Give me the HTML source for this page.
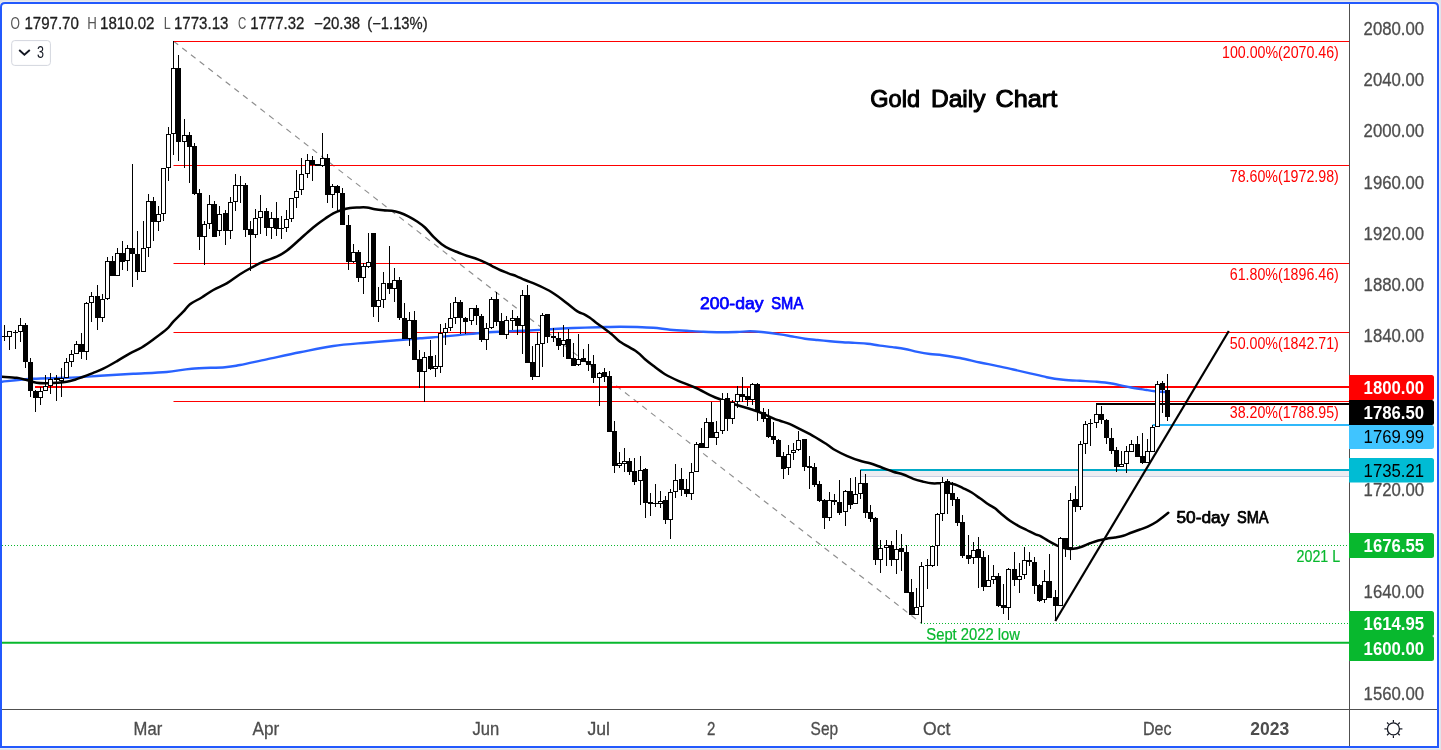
<!DOCTYPE html>
<html><head><meta charset="utf-8"><title>Gold Daily Chart</title>
<style>html,body{margin:0;padding:0;background:#e0e3eb;overflow:hidden}svg{display:block;will-change:transform;transform:translateZ(0)}text{font-family:"Liberation Sans",sans-serif}</style>
</head><body>
<svg width="1441" height="750" viewBox="0 0 1441 750">
<rect x="0" y="0" width="1441" height="750" fill="#e0e3eb"/>
<path d="M0 5 Q0 1 5 1 H1435 Q1440 1 1440 5 V749 H0 Z" fill="#ebebed"/>
<path d="M1 748 V7 Q1 3 5 3 H1434 Q1438 3 1438 7 V747 H1 Z" fill="#ffffff" stroke="#2359fd" stroke-width="2" stroke-linejoin="miter"/>
<defs><clipPath id="pane"><rect x="2" y="4" width="1347" height="705"/></clipPath></defs>
<g clip-path="url(#pane)">
<rect x="860" y="471" width="489" height="5.5" fill="#ededf2"/>
<rect x="860" y="476" width="489" height="1" fill="#c9cfe2"/>
<line x1="173.6" y1="41.2" x2="921.5" y2="623.4" stroke="#8e8e8e" stroke-width="1.15" stroke-dasharray="5.8 5.2"/>
<line x1="173.5" y1="41.5" x2="1349" y2="41.5" stroke="#ff0000" stroke-width="1"/>
<line x1="173.5" y1="165.5" x2="1349" y2="165.5" stroke="#ff0000" stroke-width="1"/>
<line x1="173.5" y1="263.5" x2="1349" y2="263.5" stroke="#ff0000" stroke-width="1"/>
<line x1="173.5" y1="332.5" x2="1349" y2="332.5" stroke="#ff0000" stroke-width="1"/>
<line x1="173.5" y1="401.5" x2="1349" y2="401.5" stroke="#ff0000" stroke-width="1"/>
<line x1="35" y1="387" x2="1349" y2="387" stroke="#ff0000" stroke-width="2.2"/>
<line x1="2" y1="545.5" x2="1349" y2="545.5" stroke="#08b82e" stroke-width="1" stroke-dasharray="1 2"/>
<line x1="921" y1="623.5" x2="1349" y2="623.5" stroke="#08b82e" stroke-width="1" stroke-dasharray="1 2"/>
<line x1="2" y1="642.8" x2="1349" y2="642.8" stroke="#08b82e" stroke-width="2"/>
<line x1="860.3" y1="470" x2="1349" y2="470" stroke="#00aac8" stroke-width="2.2"/>
<line x1="1152.5" y1="425" x2="1349" y2="425" stroke="#30b8fa" stroke-width="2"/>
<line x1="1096" y1="404" x2="1349" y2="404" stroke="#000" stroke-width="2"/>
<path d="M2.0 381.7 C7.2 381.2 22.5 379.4 33.3 378.8 C44.1 378.2 55.6 378.3 66.7 377.8 C77.8 377.3 88.9 376.5 100.0 375.8 C111.1 375.1 122.2 374.4 133.3 373.8 C144.4 373.2 157.0 372.9 166.7 372.0 C176.4 371.1 182.0 369.5 191.7 368.7 C201.4 367.9 216.9 367.8 225.0 367.2 C233.1 366.6 233.1 366.3 240.0 365.0 C246.9 363.7 256.7 361.4 266.7 359.3 C276.7 357.2 288.9 354.5 300.0 352.3 C311.1 350.1 322.2 347.6 333.3 346.0 C344.4 344.4 355.6 343.7 366.7 342.7 C377.8 341.7 391.1 340.7 400.0 340.0 C408.9 339.3 412.8 338.9 420.0 338.3 C427.2 337.7 436.3 337.2 443.3 336.6 C450.3 336.0 455.4 335.2 462.2 334.6 C469.0 334.0 477.0 333.2 484.4 332.7 C491.8 332.1 499.2 331.7 506.6 331.3 C514.0 330.9 521.4 330.9 528.8 330.5 C536.2 330.1 543.6 329.6 551.0 329.2 C558.4 328.8 565.2 328.3 573.2 328.0 C581.2 327.7 591.0 327.4 598.8 327.2 C606.6 327.0 613.7 326.7 620.0 326.7 C626.3 326.7 631.2 326.8 636.7 327.0 C642.2 327.2 647.8 327.4 653.3 327.8 C658.8 328.2 664.4 329.2 670.0 329.7 C675.6 330.2 681.2 330.5 686.7 330.8 C692.2 331.1 697.8 331.5 703.3 331.7 C708.8 331.9 714.4 332.1 720.0 332.2 C725.6 332.2 731.7 332.1 736.7 332.0 C741.7 331.9 745.8 331.3 750.0 331.3 C754.2 331.3 756.7 331.5 761.7 332.0 C766.7 332.5 774.9 333.6 780.0 334.4 C785.1 335.1 788.3 335.8 792.5 336.5 C796.7 337.2 800.8 338.1 805.0 338.7 C809.2 339.3 813.3 339.6 817.5 340.0 C821.7 340.4 825.8 340.8 830.0 341.2 C834.2 341.6 838.3 341.9 842.5 342.2 C846.7 342.5 850.8 342.6 855.0 342.9 C859.2 343.2 863.3 343.4 867.5 343.8 C871.7 344.2 875.8 345.1 880.0 345.6 C884.2 346.2 888.3 346.5 892.5 347.1 C896.7 347.7 900.8 348.2 905.0 349.0 C909.2 349.8 913.3 351.1 917.5 351.9 C921.7 352.7 925.8 353.4 930.0 354.0 C934.2 354.6 937.5 354.5 942.5 355.2 C947.5 355.9 953.8 356.8 960.0 358.0 C966.2 359.2 973.9 361.2 980.0 362.5 C986.1 363.8 991.2 364.6 996.7 365.8 C1002.2 367.0 1007.8 368.2 1013.3 369.5 C1018.8 370.8 1024.4 372.0 1030.0 373.3 C1035.6 374.6 1041.2 376.1 1046.7 377.2 C1052.2 378.3 1057.8 379.1 1063.3 379.7 C1068.8 380.3 1074.4 380.5 1080.0 380.8 C1085.6 381.1 1092.5 381.4 1096.7 381.7 C1100.9 382.0 1102.2 382.1 1105.0 382.5 C1107.8 382.9 1109.1 383.0 1113.3 383.8 C1117.5 384.6 1124.4 386.2 1130.0 387.2 C1135.6 388.2 1142.5 389.3 1146.7 390.0 C1150.9 390.7 1152.0 390.9 1155.0 391.2 C1158.0 391.5 1163.3 391.9 1165.0 392.0" fill="none" stroke="#2962ff" stroke-width="2.4" stroke-linejoin="round" stroke-linecap="round"/>
<path d="M1.7 376.7 C4.2 376.9 12.5 377.2 16.7 377.8 C20.9 378.4 23.4 379.2 26.7 380.0 C30.0 380.8 33.4 382.2 36.7 382.8 C40.0 383.4 43.4 383.3 46.7 383.3 C50.0 383.3 53.4 383.1 56.7 382.8 C60.0 382.5 63.7 382.2 66.7 381.7 C69.8 381.2 72.2 380.5 75.0 379.7 C77.8 378.9 80.2 377.8 83.3 376.7 C86.3 375.6 90.0 374.1 93.3 372.8 C96.6 371.5 99.4 370.6 103.3 368.7 C107.2 366.8 112.2 363.9 116.7 361.3 C121.2 358.7 125.8 355.6 130.0 353.3 C134.2 351.0 137.8 349.8 141.7 347.5 C145.6 345.2 149.1 342.6 153.3 339.5 C157.5 336.4 163.4 332.2 166.7 329.2 C170.0 326.2 170.5 324.6 173.3 321.7 C176.1 318.8 180.5 314.6 183.3 311.7 C186.1 308.8 186.9 306.6 190.0 304.2 C193.1 301.8 197.8 299.9 201.7 297.5 C205.6 295.1 209.1 292.4 213.3 290.0 C217.5 287.6 222.2 285.9 226.7 283.3 C231.1 280.7 235.8 276.8 240.0 274.2 C244.2 271.6 247.8 269.6 251.7 267.5 C255.6 265.4 259.1 263.5 263.3 261.7 C267.5 259.9 272.8 258.5 276.7 256.7 C280.6 254.9 282.8 253.7 286.7 250.8 C290.6 247.9 296.4 242.4 300.0 239.2 C303.6 236.0 305.5 234.1 308.3 231.7 C311.1 229.3 313.9 226.9 316.7 224.7 C319.5 222.5 322.2 220.6 325.0 218.7 C327.8 216.8 330.5 214.8 333.3 213.3 C336.1 211.9 338.9 210.9 341.7 210.0 C344.5 209.1 347.2 208.4 350.0 208.0 C352.8 207.6 355.5 207.6 358.3 207.5 C361.1 207.4 363.9 207.2 366.7 207.5 C369.5 207.8 372.2 208.7 375.0 209.2 C377.8 209.7 380.5 210.0 383.3 210.3 C386.1 210.6 388.9 210.4 391.7 210.8 C394.5 211.2 397.2 211.9 400.0 212.8 C402.8 213.7 405.5 214.9 408.3 216.3 C411.1 217.7 413.9 219.4 416.7 221.3 C419.5 223.2 422.2 224.9 425.0 227.5 C427.8 230.1 430.5 233.9 433.3 236.7 C436.1 239.5 438.9 242.1 441.7 244.2 C444.5 246.3 447.2 247.8 450.0 249.2 C452.8 250.6 455.5 251.4 458.3 252.5 C461.1 253.6 463.9 254.8 466.7 255.8 C469.5 256.8 472.2 257.3 475.0 258.3 C477.8 259.3 480.5 260.4 483.3 261.7 C486.1 262.9 488.9 264.4 491.7 265.8 C494.5 267.2 497.2 268.8 500.0 270.0 C502.8 271.2 505.5 272.2 508.3 273.3 C511.1 274.4 513.9 275.2 516.7 276.3 C519.5 277.4 521.1 278.4 525.0 280.0 C528.9 281.6 535.7 284.2 540.0 286.1 C544.3 288.1 547.3 289.5 551.0 291.7 C554.7 293.9 558.4 296.6 562.1 299.4 C565.8 302.2 570.4 306.2 573.2 308.3 C576.0 310.4 576.9 311.2 578.8 312.2 C580.6 313.2 582.4 313.5 584.3 314.4 C586.1 315.3 588.0 316.5 589.9 317.8 C591.8 319.1 593.8 320.9 595.5 322.2 C597.2 323.5 598.7 324.6 600.0 325.5 C601.3 326.4 601.3 326.4 603.3 327.8 C605.2 329.2 608.9 331.9 611.7 334.2 C614.5 336.5 615.8 338.8 620.0 341.7 C624.2 344.6 632.5 348.8 636.7 351.7 C640.9 354.6 642.2 356.8 645.0 359.2 C647.8 361.6 650.0 363.3 653.3 365.8 C656.6 368.3 660.8 371.7 665.0 374.2 C669.2 376.7 673.3 378.6 678.3 380.8 C683.3 383.0 689.4 385.0 695.0 387.5 C700.6 390.0 707.5 393.9 711.7 395.8 C715.9 397.8 715.8 397.7 720.0 399.2 C724.2 400.7 731.2 403.2 736.7 405.0 C742.2 406.8 748.9 408.5 753.3 410.0 C757.7 411.5 760.0 412.4 763.3 413.8 C766.6 415.2 770.5 417.1 773.3 418.3 C776.1 419.5 777.2 419.8 780.0 420.8 C782.8 421.8 786.7 422.8 790.0 424.2 C793.3 425.6 796.7 427.5 800.0 429.2 C803.3 430.9 805.5 431.7 810.0 434.2 C814.5 436.7 822.5 441.7 826.7 444.3 C830.9 446.9 831.7 448.1 835.0 450.0 C838.3 451.9 842.5 454.0 846.7 455.8 C850.9 457.6 856.1 459.6 860.0 460.8 C863.9 462.1 866.4 462.2 870.0 463.3 C873.6 464.4 877.8 466.1 881.7 467.5 C885.6 468.9 889.7 470.5 893.3 471.7 C896.9 472.9 900.0 473.3 903.3 474.5 C906.6 475.7 910.0 477.6 913.3 478.8 C916.6 480.0 920.2 480.9 923.3 481.7 C926.4 482.4 928.9 483.0 931.7 483.3 C934.5 483.6 937.2 483.3 940.0 483.3 C942.8 483.3 945.8 483.1 948.3 483.3 C950.8 483.5 952.5 483.7 955.0 484.5 C957.5 485.3 960.5 487.0 963.3 488.3 C966.1 489.6 968.9 490.8 971.7 492.5 C974.5 494.2 977.2 496.4 980.0 498.3 C982.8 500.2 985.8 502.5 988.3 504.2 C990.8 505.9 992.8 506.6 995.0 508.3 C997.2 510.0 999.2 512.1 1001.7 514.2 C1004.2 516.3 1007.2 518.9 1010.0 520.8 C1012.8 522.7 1015.5 524.3 1018.3 525.8 C1021.1 527.3 1023.9 528.6 1026.7 530.0 C1029.5 531.4 1032.8 533.2 1035.0 534.2 C1037.2 535.2 1037.8 534.7 1040.0 535.8 C1042.2 536.9 1045.5 539.2 1048.3 540.8 C1051.1 542.4 1053.9 544.0 1056.7 545.3 C1059.5 546.5 1062.2 547.7 1065.0 548.3 C1067.8 548.9 1070.5 549.1 1073.3 548.8 C1076.1 548.5 1078.9 547.6 1081.7 546.7 C1084.5 545.8 1087.2 544.3 1090.0 543.3 C1092.8 542.3 1095.5 541.3 1098.3 540.5 C1101.1 539.7 1103.9 539.2 1106.7 538.7 C1109.5 538.2 1112.2 538.0 1115.0 537.5 C1117.8 537.0 1120.5 536.6 1123.3 535.8 C1126.1 535.0 1128.9 533.5 1131.7 532.5 C1134.5 531.5 1137.2 530.5 1140.0 529.5 C1142.8 528.5 1145.5 527.6 1148.3 526.3 C1151.1 525.0 1154.2 523.3 1156.7 521.7 C1159.2 520.1 1161.4 518.2 1163.3 516.7 C1165.2 515.2 1167.5 513.4 1168.3 512.8" fill="none" stroke="#000" stroke-width="2.5" stroke-linejoin="round" stroke-linecap="round"/>
<line x1="1055.3" y1="621" x2="1228.8" y2="331" stroke="#000" stroke-width="2.2"/>
<line x1="4.5" y1="325.0" x2="4.5" y2="341.0" stroke="#000" stroke-width="1"/>
<rect x="2.0" y="336" width="5" height="1" fill="#000"/>
<line x1="9.5" y1="331.0" x2="9.5" y2="350.0" stroke="#000" stroke-width="1"/>
<rect x="7.5" y="331.5" width="4" height="5.0" fill="#fff" stroke="#000" stroke-width="1"/>
<line x1="15.5" y1="330.0" x2="15.5" y2="349.0" stroke="#000" stroke-width="1"/>
<rect x="13.0" y="332" width="5" height="1" fill="#000"/>
<line x1="20.5" y1="318.0" x2="20.5" y2="342.0" stroke="#000" stroke-width="1"/>
<rect x="18.5" y="325.5" width="4" height="6.0" fill="#fff" stroke="#000" stroke-width="1"/>
<line x1="25.5" y1="323.0" x2="25.5" y2="368.0" stroke="#000" stroke-width="1"/>
<rect x="23.0" y="325.0" width="5" height="37.0" fill="#000"/>
<line x1="30.5" y1="358.0" x2="30.5" y2="397.0" stroke="#000" stroke-width="1"/>
<rect x="28.0" y="362.0" width="5" height="29.0" fill="#000"/>
<line x1="35.5" y1="390.0" x2="35.5" y2="412.0" stroke="#000" stroke-width="1"/>
<rect x="33.0" y="391.0" width="5" height="7.0" fill="#000"/>
<line x1="40.5" y1="387.0" x2="40.5" y2="405.0" stroke="#000" stroke-width="1"/>
<rect x="38.5" y="391.5" width="4" height="6.0" fill="#fff" stroke="#000" stroke-width="1"/>
<line x1="45.5" y1="375.0" x2="45.5" y2="391.0" stroke="#000" stroke-width="1"/>
<rect x="43.5" y="386.5" width="4" height="4.0" fill="#fff" stroke="#000" stroke-width="1"/>
<line x1="50.5" y1="373.0" x2="50.5" y2="394.0" stroke="#000" stroke-width="1"/>
<rect x="48.5" y="379.5" width="4" height="6.0" fill="#fff" stroke="#000" stroke-width="1"/>
<line x1="56.5" y1="375.0" x2="56.5" y2="401.0" stroke="#000" stroke-width="1"/>
<rect x="54.0" y="378.0" width="5" height="2.0" fill="#000"/>
<line x1="61.5" y1="368.0" x2="61.5" y2="397.0" stroke="#000" stroke-width="1"/>
<rect x="59.5" y="378.5" width="4" height="2.0" fill="#fff" stroke="#000" stroke-width="1"/>
<line x1="66.5" y1="358.0" x2="66.5" y2="378.0" stroke="#000" stroke-width="1"/>
<rect x="64.5" y="362.5" width="4" height="15.0" fill="#fff" stroke="#000" stroke-width="1"/>
<line x1="71.5" y1="350.0" x2="71.5" y2="367.0" stroke="#000" stroke-width="1"/>
<rect x="69.5" y="354.5" width="4" height="7.0" fill="#fff" stroke="#000" stroke-width="1"/>
<line x1="76.5" y1="341.0" x2="76.5" y2="354.0" stroke="#000" stroke-width="1"/>
<rect x="74.5" y="344.5" width="4" height="9.0" fill="#fff" stroke="#000" stroke-width="1"/>
<line x1="81.5" y1="333.0" x2="81.5" y2="359.0" stroke="#000" stroke-width="1"/>
<rect x="79.0" y="344.0" width="5" height="8.0" fill="#000"/>
<line x1="86.5" y1="302.0" x2="86.5" y2="360.0" stroke="#000" stroke-width="1"/>
<rect x="84.5" y="303.5" width="4" height="48.0" fill="#fff" stroke="#000" stroke-width="1"/>
<line x1="91.5" y1="292.0" x2="91.5" y2="322.0" stroke="#000" stroke-width="1"/>
<rect x="89.5" y="296.5" width="4" height="6.0" fill="#fff" stroke="#000" stroke-width="1"/>
<line x1="97.5" y1="285.0" x2="97.5" y2="330.0" stroke="#000" stroke-width="1"/>
<rect x="95.0" y="296.0" width="5" height="22.0" fill="#000"/>
<line x1="102.5" y1="294.0" x2="102.5" y2="322.0" stroke="#000" stroke-width="1"/>
<rect x="100.5" y="299.5" width="4" height="18.0" fill="#fff" stroke="#000" stroke-width="1"/>
<line x1="107.5" y1="257.0" x2="107.5" y2="300.0" stroke="#000" stroke-width="1"/>
<rect x="105.5" y="261.5" width="4" height="37.0" fill="#fff" stroke="#000" stroke-width="1"/>
<line x1="112.5" y1="256.0" x2="112.5" y2="276.0" stroke="#000" stroke-width="1"/>
<rect x="110.0" y="261.0" width="5" height="15.0" fill="#000"/>
<line x1="117.5" y1="248.0" x2="117.5" y2="276.0" stroke="#000" stroke-width="1"/>
<rect x="115.5" y="253.5" width="4" height="22.0" fill="#fff" stroke="#000" stroke-width="1"/>
<line x1="122.5" y1="241.0" x2="122.5" y2="270.0" stroke="#000" stroke-width="1"/>
<rect x="120.0" y="253.0" width="5" height="9.0" fill="#000"/>
<line x1="127.5" y1="245.0" x2="127.5" y2="271.0" stroke="#000" stroke-width="1"/>
<rect x="125.5" y="248.5" width="4" height="12.0" fill="#fff" stroke="#000" stroke-width="1"/>
<line x1="132.5" y1="164.0" x2="132.5" y2="287.0" stroke="#000" stroke-width="1"/>
<rect x="130.0" y="248.0" width="5" height="6.0" fill="#000"/>
<line x1="137.5" y1="231.0" x2="137.5" y2="280.0" stroke="#000" stroke-width="1"/>
<rect x="135.0" y="254.0" width="5" height="18.0" fill="#000"/>
<line x1="143.5" y1="221.0" x2="143.5" y2="272.0" stroke="#000" stroke-width="1"/>
<rect x="141.5" y="248.5" width="4" height="23.0" fill="#fff" stroke="#000" stroke-width="1"/>
<line x1="148.5" y1="194.0" x2="148.5" y2="257.0" stroke="#000" stroke-width="1"/>
<rect x="146.5" y="201.5" width="4" height="46.0" fill="#fff" stroke="#000" stroke-width="1"/>
<line x1="153.5" y1="197.0" x2="153.5" y2="241.0" stroke="#000" stroke-width="1"/>
<rect x="151.0" y="201.0" width="5" height="21.0" fill="#000"/>
<line x1="158.5" y1="206.0" x2="158.5" y2="231.0" stroke="#000" stroke-width="1"/>
<rect x="156.5" y="214.5" width="4" height="7.0" fill="#fff" stroke="#000" stroke-width="1"/>
<line x1="163.5" y1="168.0" x2="163.5" y2="221.0" stroke="#000" stroke-width="1"/>
<rect x="161.5" y="168.5" width="4" height="45.0" fill="#fff" stroke="#000" stroke-width="1"/>
<line x1="168.5" y1="127.0" x2="168.5" y2="181.0" stroke="#000" stroke-width="1"/>
<rect x="166.5" y="134.5" width="4" height="33.0" fill="#fff" stroke="#000" stroke-width="1"/>
<line x1="173.5" y1="41.0" x2="173.5" y2="155.0" stroke="#000" stroke-width="1"/>
<rect x="171.5" y="68.5" width="4" height="65.0" fill="#fff" stroke="#000" stroke-width="1"/>
<line x1="178.5" y1="55.0" x2="178.5" y2="161.0" stroke="#000" stroke-width="1"/>
<rect x="176.0" y="68.0" width="5" height="74.0" fill="#000"/>
<line x1="184.5" y1="119.0" x2="184.5" y2="168.0" stroke="#000" stroke-width="1"/>
<rect x="182.5" y="135.5" width="4" height="6.0" fill="#fff" stroke="#000" stroke-width="1"/>
<line x1="189.5" y1="132.0" x2="189.5" y2="183.0" stroke="#000" stroke-width="1"/>
<rect x="187.0" y="135.0" width="5" height="12.0" fill="#000"/>
<line x1="194.5" y1="143.0" x2="194.5" y2="195.0" stroke="#000" stroke-width="1"/>
<rect x="192.0" y="146.0" width="5" height="48.0" fill="#000"/>
<line x1="199.5" y1="189.0" x2="199.5" y2="250.0" stroke="#000" stroke-width="1"/>
<rect x="197.0" y="193.0" width="5" height="44.0" fill="#000"/>
<line x1="204.5" y1="221.0" x2="204.5" y2="265.0" stroke="#000" stroke-width="1"/>
<rect x="202.5" y="224.5" width="4" height="12.0" fill="#fff" stroke="#000" stroke-width="1"/>
<line x1="209.5" y1="195.0" x2="209.5" y2="229.0" stroke="#000" stroke-width="1"/>
<rect x="207.5" y="204.5" width="4" height="19.0" fill="#fff" stroke="#000" stroke-width="1"/>
<line x1="214.5" y1="201.0" x2="214.5" y2="237.0" stroke="#000" stroke-width="1"/>
<rect x="212.0" y="204.0" width="5" height="33.0" fill="#000"/>
<line x1="219.5" y1="206.0" x2="219.5" y2="236.0" stroke="#000" stroke-width="1"/>
<rect x="217.5" y="214.5" width="4" height="16.0" fill="#fff" stroke="#000" stroke-width="1"/>
<line x1="225.5" y1="210.0" x2="225.5" y2="245.0" stroke="#000" stroke-width="1"/>
<rect x="223.0" y="213.0" width="5" height="18.0" fill="#000"/>
<line x1="230.5" y1="197.0" x2="230.5" y2="239.0" stroke="#000" stroke-width="1"/>
<rect x="228.5" y="202.5" width="4" height="28.0" fill="#fff" stroke="#000" stroke-width="1"/>
<line x1="235.5" y1="174.0" x2="235.5" y2="211.0" stroke="#000" stroke-width="1"/>
<rect x="233.5" y="185.5" width="4" height="16.0" fill="#fff" stroke="#000" stroke-width="1"/>
<line x1="240.5" y1="176.0" x2="240.5" y2="203.0" stroke="#000" stroke-width="1"/>
<rect x="238.0" y="185" width="5" height="1" fill="#000"/>
<line x1="245.5" y1="183.0" x2="245.5" y2="237.0" stroke="#000" stroke-width="1"/>
<rect x="243.0" y="185.0" width="5" height="45.0" fill="#000"/>
<line x1="250.5" y1="221.0" x2="250.5" y2="271.0" stroke="#000" stroke-width="1"/>
<rect x="248.0" y="229.0" width="5" height="6.0" fill="#000"/>
<line x1="255.5" y1="209.0" x2="255.5" y2="238.0" stroke="#000" stroke-width="1"/>
<rect x="253.5" y="218.5" width="4" height="16.0" fill="#fff" stroke="#000" stroke-width="1"/>
<line x1="260.5" y1="195.0" x2="260.5" y2="234.0" stroke="#000" stroke-width="1"/>
<rect x="258.5" y="211.5" width="4" height="6.0" fill="#fff" stroke="#000" stroke-width="1"/>
<line x1="266.5" y1="208.0" x2="266.5" y2="236.0" stroke="#000" stroke-width="1"/>
<rect x="264.0" y="211.0" width="5" height="17.0" fill="#000"/>
<line x1="271.5" y1="212.0" x2="271.5" y2="239.0" stroke="#000" stroke-width="1"/>
<rect x="269.5" y="218.5" width="4" height="9.0" fill="#fff" stroke="#000" stroke-width="1"/>
<line x1="276.5" y1="202.0" x2="276.5" y2="236.0" stroke="#000" stroke-width="1"/>
<rect x="274.0" y="218.0" width="5" height="11.0" fill="#000"/>
<line x1="281.5" y1="216.0" x2="281.5" y2="239.0" stroke="#000" stroke-width="1"/>
<rect x="279.0" y="228.0" width="5" height="1.0" fill="#000"/>
<line x1="286.5" y1="210.0" x2="286.5" y2="232.0" stroke="#000" stroke-width="1"/>
<rect x="284.5" y="219.5" width="4" height="8.0" fill="#fff" stroke="#000" stroke-width="1"/>
<line x1="291.5" y1="198.0" x2="291.5" y2="222.0" stroke="#000" stroke-width="1"/>
<rect x="289.5" y="198.5" width="4" height="20.0" fill="#fff" stroke="#000" stroke-width="1"/>
<line x1="296.5" y1="170.0" x2="296.5" y2="208.0" stroke="#000" stroke-width="1"/>
<rect x="294.5" y="191.5" width="4" height="6.0" fill="#fff" stroke="#000" stroke-width="1"/>
<line x1="301.5" y1="158.0" x2="301.5" y2="195.0" stroke="#000" stroke-width="1"/>
<rect x="299.5" y="174.5" width="4" height="15.0" fill="#fff" stroke="#000" stroke-width="1"/>
<line x1="307.5" y1="154.0" x2="307.5" y2="178.0" stroke="#000" stroke-width="1"/>
<rect x="305.5" y="160.5" width="4" height="13.0" fill="#fff" stroke="#000" stroke-width="1"/>
<line x1="312.5" y1="156.0" x2="312.5" y2="181.0" stroke="#000" stroke-width="1"/>
<rect x="310.0" y="160.0" width="5" height="5.0" fill="#000"/>
<line x1="317.5" y1="164.0" x2="317.5" y2="166.0" stroke="#000" stroke-width="1"/>
<rect x="315.0" y="164.0" width="5" height="2.0" fill="#000"/>
<line x1="322.5" y1="133.0" x2="322.5" y2="167.0" stroke="#000" stroke-width="1"/>
<rect x="320.5" y="158.5" width="4" height="7.0" fill="#fff" stroke="#000" stroke-width="1"/>
<line x1="327.5" y1="154.0" x2="327.5" y2="203.0" stroke="#000" stroke-width="1"/>
<rect x="325.0" y="158.0" width="5" height="37.0" fill="#000"/>
<line x1="332.5" y1="184.0" x2="332.5" y2="208.0" stroke="#000" stroke-width="1"/>
<rect x="330.5" y="186.5" width="4" height="8.0" fill="#fff" stroke="#000" stroke-width="1"/>
<line x1="337.5" y1="185.0" x2="337.5" y2="211.0" stroke="#000" stroke-width="1"/>
<rect x="335.0" y="186.0" width="5" height="7.0" fill="#000"/>
<line x1="342.5" y1="188.0" x2="342.5" y2="225.0" stroke="#000" stroke-width="1"/>
<rect x="340.0" y="193.0" width="5" height="32.0" fill="#000"/>
<line x1="348.5" y1="215.0" x2="348.5" y2="270.0" stroke="#000" stroke-width="1"/>
<rect x="346.0" y="225.0" width="5" height="37.0" fill="#000"/>
<line x1="353.5" y1="244.0" x2="353.5" y2="263.0" stroke="#000" stroke-width="1"/>
<rect x="351.5" y="252.5" width="4" height="9.0" fill="#fff" stroke="#000" stroke-width="1"/>
<line x1="358.5" y1="250.0" x2="358.5" y2="282.0" stroke="#000" stroke-width="1"/>
<rect x="356.0" y="252.0" width="5" height="26.0" fill="#000"/>
<line x1="363.5" y1="263.0" x2="363.5" y2="294.0" stroke="#000" stroke-width="1"/>
<rect x="361.5" y="266.5" width="4" height="11.0" fill="#fff" stroke="#000" stroke-width="1"/>
<line x1="368.5" y1="233.0" x2="368.5" y2="268.0" stroke="#000" stroke-width="1"/>
<rect x="366.5" y="262.5" width="4" height="4.0" fill="#fff" stroke="#000" stroke-width="1"/>
<line x1="373.5" y1="233.0" x2="373.5" y2="317.0" stroke="#000" stroke-width="1"/>
<rect x="371.0" y="233.0" width="5" height="74.0" fill="#000"/>
<line x1="378.5" y1="287.0" x2="378.5" y2="322.0" stroke="#000" stroke-width="1"/>
<rect x="376.5" y="300.5" width="4" height="6.0" fill="#fff" stroke="#000" stroke-width="1"/>
<line x1="383.5" y1="272.0" x2="383.5" y2="308.0" stroke="#000" stroke-width="1"/>
<rect x="381.5" y="283.5" width="4" height="16.0" fill="#fff" stroke="#000" stroke-width="1"/>
<line x1="389.5" y1="246.0" x2="389.5" y2="294.0" stroke="#000" stroke-width="1"/>
<rect x="387.0" y="283.0" width="5" height="6.0" fill="#000"/>
<line x1="394.5" y1="268.0" x2="394.5" y2="302.0" stroke="#000" stroke-width="1"/>
<rect x="392.5" y="280.5" width="4" height="8.0" fill="#fff" stroke="#000" stroke-width="1"/>
<line x1="399.5" y1="277.0" x2="399.5" y2="320.0" stroke="#000" stroke-width="1"/>
<rect x="397.0" y="280.0" width="5" height="38.0" fill="#000"/>
<line x1="404.5" y1="303.0" x2="404.5" y2="339.0" stroke="#000" stroke-width="1"/>
<rect x="402.0" y="318.0" width="5" height="21.0" fill="#000"/>
<line x1="409.5" y1="312.0" x2="409.5" y2="346.0" stroke="#000" stroke-width="1"/>
<rect x="407.5" y="320.5" width="4" height="18.0" fill="#fff" stroke="#000" stroke-width="1"/>
<line x1="414.5" y1="311.0" x2="414.5" y2="360.0" stroke="#000" stroke-width="1"/>
<rect x="412.0" y="320.0" width="5" height="40.0" fill="#000"/>
<line x1="419.5" y1="350.0" x2="419.5" y2="388.0" stroke="#000" stroke-width="1"/>
<rect x="417.0" y="359.0" width="5" height="13.0" fill="#000"/>
<line x1="424.5" y1="352.0" x2="424.5" y2="402.0" stroke="#000" stroke-width="1"/>
<rect x="422.5" y="357.5" width="4" height="14.0" fill="#fff" stroke="#000" stroke-width="1"/>
<line x1="430.5" y1="340.0" x2="430.5" y2="370.0" stroke="#000" stroke-width="1"/>
<rect x="428.0" y="356.0" width="5" height="13.0" fill="#000"/>
<line x1="435.5" y1="355.0" x2="435.5" y2="377.0" stroke="#000" stroke-width="1"/>
<rect x="433.5" y="366.5" width="4" height="2.0" fill="#fff" stroke="#000" stroke-width="1"/>
<line x1="440.5" y1="324.0" x2="440.5" y2="373.0" stroke="#000" stroke-width="1"/>
<rect x="438.5" y="333.5" width="4" height="33.0" fill="#fff" stroke="#000" stroke-width="1"/>
<line x1="445.5" y1="323.0" x2="445.5" y2="345.0" stroke="#000" stroke-width="1"/>
<rect x="443.5" y="328.5" width="4" height="4.0" fill="#fff" stroke="#000" stroke-width="1"/>
<line x1="450.5" y1="303.0" x2="450.5" y2="331.0" stroke="#000" stroke-width="1"/>
<rect x="448.5" y="318.5" width="4" height="9.0" fill="#fff" stroke="#000" stroke-width="1"/>
<line x1="455.5" y1="297.0" x2="455.5" y2="324.0" stroke="#000" stroke-width="1"/>
<rect x="453.5" y="302.5" width="4" height="15.0" fill="#fff" stroke="#000" stroke-width="1"/>
<line x1="460.5" y1="300.0" x2="460.5" y2="334.0" stroke="#000" stroke-width="1"/>
<rect x="458.0" y="302.0" width="5" height="16.0" fill="#000"/>
<line x1="465.5" y1="317.0" x2="465.5" y2="334.0" stroke="#000" stroke-width="1"/>
<rect x="463.0" y="318.0" width="5" height="4.0" fill="#000"/>
<line x1="471.5" y1="308.0" x2="471.5" y2="325.0" stroke="#000" stroke-width="1"/>
<rect x="469.5" y="308.5" width="4" height="12.0" fill="#fff" stroke="#000" stroke-width="1"/>
<line x1="476.5" y1="305.0" x2="476.5" y2="325.0" stroke="#000" stroke-width="1"/>
<rect x="474.0" y="308.0" width="5" height="8.0" fill="#000"/>
<line x1="481.5" y1="314.0" x2="481.5" y2="342.0" stroke="#000" stroke-width="1"/>
<rect x="479.0" y="316.0" width="5" height="24.0" fill="#000"/>
<line x1="486.5" y1="323.0" x2="486.5" y2="350.0" stroke="#000" stroke-width="1"/>
<rect x="484.5" y="328.5" width="4" height="11.0" fill="#fff" stroke="#000" stroke-width="1"/>
<line x1="491.5" y1="297.0" x2="491.5" y2="329.0" stroke="#000" stroke-width="1"/>
<rect x="489.5" y="299.5" width="4" height="28.0" fill="#fff" stroke="#000" stroke-width="1"/>
<line x1="496.5" y1="292.0" x2="496.5" y2="326.0" stroke="#000" stroke-width="1"/>
<rect x="494.0" y="299.0" width="5" height="23.0" fill="#000"/>
<line x1="501.5" y1="313.0" x2="501.5" y2="335.0" stroke="#000" stroke-width="1"/>
<rect x="499.0" y="321.0" width="5" height="14.0" fill="#000"/>
<line x1="506.5" y1="316.0" x2="506.5" y2="339.0" stroke="#000" stroke-width="1"/>
<rect x="504.5" y="320.5" width="4" height="14.0" fill="#fff" stroke="#000" stroke-width="1"/>
<line x1="512.5" y1="310.0" x2="512.5" y2="330.0" stroke="#000" stroke-width="1"/>
<rect x="510.5" y="318.5" width="4" height="2.0" fill="#fff" stroke="#000" stroke-width="1"/>
<line x1="517.5" y1="316.0" x2="517.5" y2="335.0" stroke="#000" stroke-width="1"/>
<rect x="515.0" y="318.0" width="5" height="8.0" fill="#000"/>
<line x1="522.5" y1="290.0" x2="522.5" y2="354.0" stroke="#000" stroke-width="1"/>
<rect x="520.5" y="295.5" width="4" height="30.0" fill="#fff" stroke="#000" stroke-width="1"/>
<line x1="527.5" y1="285.0" x2="527.5" y2="363.0" stroke="#000" stroke-width="1"/>
<rect x="525.0" y="295.0" width="5" height="68.0" fill="#000"/>
<line x1="532.5" y1="346.0" x2="532.5" y2="380.0" stroke="#000" stroke-width="1"/>
<rect x="530.0" y="362.0" width="5" height="15.0" fill="#000"/>
<line x1="537.5" y1="332.0" x2="537.5" y2="377.0" stroke="#000" stroke-width="1"/>
<rect x="535.5" y="344.5" width="4" height="32.0" fill="#fff" stroke="#000" stroke-width="1"/>
<line x1="542.5" y1="313.0" x2="542.5" y2="367.0" stroke="#000" stroke-width="1"/>
<rect x="540.5" y="315.5" width="4" height="28.0" fill="#fff" stroke="#000" stroke-width="1"/>
<line x1="547.5" y1="314.0" x2="547.5" y2="343.0" stroke="#000" stroke-width="1"/>
<rect x="545.0" y="314.0" width="5" height="23.0" fill="#000"/>
<line x1="553.5" y1="328.0" x2="553.5" y2="342.0" stroke="#000" stroke-width="1"/>
<rect x="551.0" y="336.0" width="5" height="2.0" fill="#000"/>
<line x1="558.5" y1="332.0" x2="558.5" y2="350.0" stroke="#000" stroke-width="1"/>
<rect x="556.0" y="338.0" width="5" height="8.0" fill="#000"/>
<line x1="563.5" y1="325.0" x2="563.5" y2="357.0" stroke="#000" stroke-width="1"/>
<rect x="561.5" y="340.5" width="4" height="4.0" fill="#fff" stroke="#000" stroke-width="1"/>
<line x1="568.5" y1="329.0" x2="568.5" y2="359.0" stroke="#000" stroke-width="1"/>
<rect x="566.0" y="339.0" width="5" height="20.0" fill="#000"/>
<line x1="573.5" y1="343.0" x2="573.5" y2="366.0" stroke="#000" stroke-width="1"/>
<rect x="571.0" y="358.0" width="5" height="8.0" fill="#000"/>
<line x1="578.5" y1="334.0" x2="578.5" y2="366.0" stroke="#000" stroke-width="1"/>
<rect x="576.5" y="359.5" width="4" height="5.0" fill="#fff" stroke="#000" stroke-width="1"/>
<line x1="583.5" y1="349.0" x2="583.5" y2="362.0" stroke="#000" stroke-width="1"/>
<rect x="581.0" y="358.0" width="5" height="4.0" fill="#000"/>
<line x1="588.5" y1="344.0" x2="588.5" y2="371.0" stroke="#000" stroke-width="1"/>
<rect x="586.0" y="361.0" width="5" height="4.0" fill="#000"/>
<line x1="593.5" y1="355.0" x2="593.5" y2="383.0" stroke="#000" stroke-width="1"/>
<rect x="591.0" y="364.0" width="5" height="14.0" fill="#000"/>
<line x1="599.5" y1="372.0" x2="599.5" y2="406.0" stroke="#000" stroke-width="1"/>
<rect x="597.5" y="373.5" width="4" height="4.0" fill="#fff" stroke="#000" stroke-width="1"/>
<line x1="604.5" y1="368.0" x2="604.5" y2="382.0" stroke="#000" stroke-width="1"/>
<rect x="602.0" y="372.0" width="5" height="5.0" fill="#000"/>
<line x1="609.5" y1="371.0" x2="609.5" y2="432.0" stroke="#000" stroke-width="1"/>
<rect x="607.0" y="376.0" width="5" height="56.0" fill="#000"/>
<line x1="614.5" y1="421.0" x2="614.5" y2="473.0" stroke="#000" stroke-width="1"/>
<rect x="612.0" y="431.0" width="5" height="35.0" fill="#000"/>
<line x1="619.5" y1="452.0" x2="619.5" y2="468.0" stroke="#000" stroke-width="1"/>
<rect x="617.5" y="463.5" width="4" height="2.0" fill="#fff" stroke="#000" stroke-width="1"/>
<line x1="624.5" y1="448.0" x2="624.5" y2="472.0" stroke="#000" stroke-width="1"/>
<rect x="622.5" y="461.5" width="4" height="2.0" fill="#fff" stroke="#000" stroke-width="1"/>
<line x1="629.5" y1="458.0" x2="629.5" y2="475.0" stroke="#000" stroke-width="1"/>
<rect x="627.0" y="461.0" width="5" height="11.0" fill="#000"/>
<line x1="634.5" y1="458.0" x2="634.5" y2="485.0" stroke="#000" stroke-width="1"/>
<rect x="632.0" y="471.0" width="5" height="11.0" fill="#000"/>
<line x1="640.5" y1="456.0" x2="640.5" y2="505.0" stroke="#000" stroke-width="1"/>
<rect x="638.5" y="470.5" width="4" height="10.0" fill="#fff" stroke="#000" stroke-width="1"/>
<line x1="645.5" y1="468.0" x2="645.5" y2="518.0" stroke="#000" stroke-width="1"/>
<rect x="643.0" y="469.0" width="5" height="34.0" fill="#000"/>
<line x1="650.5" y1="493.0" x2="650.5" y2="516.0" stroke="#000" stroke-width="1"/>
<rect x="648.0" y="502.0" width="5" height="2.0" fill="#000"/>
<line x1="655.5" y1="484.0" x2="655.5" y2="507.0" stroke="#000" stroke-width="1"/>
<rect x="653.0" y="503.0" width="5" height="1.0" fill="#000"/>
<line x1="660.5" y1="491.0" x2="660.5" y2="508.0" stroke="#000" stroke-width="1"/>
<rect x="658.5" y="501.5" width="4" height="2.0" fill="#fff" stroke="#000" stroke-width="1"/>
<line x1="665.5" y1="496.0" x2="665.5" y2="524.0" stroke="#000" stroke-width="1"/>
<rect x="663.0" y="500.0" width="5" height="20.0" fill="#000"/>
<line x1="670.5" y1="489.0" x2="670.5" y2="539.0" stroke="#000" stroke-width="1"/>
<rect x="668.5" y="492.5" width="4" height="27.0" fill="#fff" stroke="#000" stroke-width="1"/>
<line x1="675.5" y1="464.0" x2="675.5" y2="498.0" stroke="#000" stroke-width="1"/>
<rect x="673.5" y="480.5" width="4" height="11.0" fill="#fff" stroke="#000" stroke-width="1"/>
<line x1="681.5" y1="468.0" x2="681.5" y2="496.0" stroke="#000" stroke-width="1"/>
<rect x="679.0" y="479.0" width="5" height="11.0" fill="#000"/>
<line x1="686.5" y1="479.0" x2="686.5" y2="497.0" stroke="#000" stroke-width="1"/>
<rect x="684.0" y="489.0" width="5" height="5.0" fill="#000"/>
<line x1="691.5" y1="463.0" x2="691.5" y2="500.0" stroke="#000" stroke-width="1"/>
<rect x="689.5" y="472.5" width="4" height="21.0" fill="#fff" stroke="#000" stroke-width="1"/>
<line x1="696.5" y1="442.0" x2="696.5" y2="472.0" stroke="#000" stroke-width="1"/>
<rect x="694.5" y="444.5" width="4" height="27.0" fill="#fff" stroke="#000" stroke-width="1"/>
<line x1="701.5" y1="428.0" x2="701.5" y2="448.0" stroke="#000" stroke-width="1"/>
<rect x="699.0" y="443.0" width="5" height="5.0" fill="#000"/>
<line x1="706.5" y1="418.0" x2="706.5" y2="448.0" stroke="#000" stroke-width="1"/>
<rect x="704.5" y="422.5" width="4" height="25.0" fill="#fff" stroke="#000" stroke-width="1"/>
<line x1="711.5" y1="402.0" x2="711.5" y2="438.0" stroke="#000" stroke-width="1"/>
<rect x="709.0" y="422.0" width="5" height="16.0" fill="#000"/>
<line x1="716.5" y1="421.0" x2="716.5" y2="445.0" stroke="#000" stroke-width="1"/>
<rect x="714.5" y="432.5" width="4" height="5.0" fill="#fff" stroke="#000" stroke-width="1"/>
<line x1="722.5" y1="393.0" x2="722.5" y2="434.0" stroke="#000" stroke-width="1"/>
<rect x="720.5" y="399.5" width="4" height="31.0" fill="#fff" stroke="#000" stroke-width="1"/>
<line x1="727.5" y1="393.0" x2="727.5" y2="431.0" stroke="#000" stroke-width="1"/>
<rect x="725.0" y="398.0" width="5" height="21.0" fill="#000"/>
<line x1="732.5" y1="400.0" x2="732.5" y2="424.0" stroke="#000" stroke-width="1"/>
<rect x="730.5" y="402.5" width="4" height="16.0" fill="#fff" stroke="#000" stroke-width="1"/>
<line x1="737.5" y1="386.0" x2="737.5" y2="408.0" stroke="#000" stroke-width="1"/>
<rect x="735.5" y="394.5" width="4" height="7.0" fill="#fff" stroke="#000" stroke-width="1"/>
<line x1="742.5" y1="377.0" x2="742.5" y2="402.0" stroke="#000" stroke-width="1"/>
<rect x="740.0" y="394.0" width="5" height="3.0" fill="#000"/>
<line x1="747.5" y1="388.0" x2="747.5" y2="406.0" stroke="#000" stroke-width="1"/>
<rect x="745.0" y="396.0" width="5" height="4.0" fill="#000"/>
<line x1="752.5" y1="383.0" x2="752.5" y2="405.0" stroke="#000" stroke-width="1"/>
<rect x="750.5" y="384.5" width="4" height="15.0" fill="#fff" stroke="#000" stroke-width="1"/>
<line x1="757.5" y1="383.0" x2="757.5" y2="421.0" stroke="#000" stroke-width="1"/>
<rect x="755.0" y="384.0" width="5" height="28.0" fill="#000"/>
<line x1="763.5" y1="408.0" x2="763.5" y2="422.0" stroke="#000" stroke-width="1"/>
<rect x="761.0" y="412.0" width="5" height="7.0" fill="#000"/>
<line x1="768.5" y1="409.0" x2="768.5" y2="438.0" stroke="#000" stroke-width="1"/>
<rect x="766.0" y="418.0" width="5" height="19.0" fill="#000"/>
<line x1="773.5" y1="422.0" x2="773.5" y2="444.0" stroke="#000" stroke-width="1"/>
<rect x="771.0" y="436.0" width="5" height="4.0" fill="#000"/>
<line x1="778.5" y1="439.0" x2="778.5" y2="457.0" stroke="#000" stroke-width="1"/>
<rect x="776.0" y="440.0" width="5" height="17.0" fill="#000"/>
<line x1="783.5" y1="452.0" x2="783.5" y2="479.0" stroke="#000" stroke-width="1"/>
<rect x="781.0" y="456.0" width="5" height="13.0" fill="#000"/>
<line x1="788.5" y1="445.0" x2="788.5" y2="475.0" stroke="#000" stroke-width="1"/>
<rect x="786.5" y="454.5" width="4" height="13.0" fill="#fff" stroke="#000" stroke-width="1"/>
<line x1="793.5" y1="443.0" x2="793.5" y2="460.0" stroke="#000" stroke-width="1"/>
<rect x="791.5" y="450.5" width="4" height="2.0" fill="#fff" stroke="#000" stroke-width="1"/>
<line x1="798.5" y1="431.0" x2="798.5" y2="451.0" stroke="#000" stroke-width="1"/>
<rect x="796.5" y="440.5" width="4" height="9.0" fill="#fff" stroke="#000" stroke-width="1"/>
<line x1="804.5" y1="439.0" x2="804.5" y2="471.0" stroke="#000" stroke-width="1"/>
<rect x="802.0" y="439.0" width="5" height="28.0" fill="#000"/>
<line x1="809.5" y1="456.0" x2="809.5" y2="489.0" stroke="#000" stroke-width="1"/>
<rect x="807.0" y="466.0" width="5" height="2.0" fill="#000"/>
<line x1="814.5" y1="463.0" x2="814.5" y2="487.0" stroke="#000" stroke-width="1"/>
<rect x="812.0" y="467.0" width="5" height="18.0" fill="#000"/>
<line x1="819.5" y1="481.0" x2="819.5" y2="502.0" stroke="#000" stroke-width="1"/>
<rect x="817.0" y="484.0" width="5" height="17.0" fill="#000"/>
<line x1="824.5" y1="499.0" x2="824.5" y2="529.0" stroke="#000" stroke-width="1"/>
<rect x="822.0" y="500.0" width="5" height="18.0" fill="#000"/>
<line x1="829.5" y1="492.0" x2="829.5" y2="521.0" stroke="#000" stroke-width="1"/>
<rect x="827.5" y="500.5" width="4" height="17.0" fill="#fff" stroke="#000" stroke-width="1"/>
<line x1="834.5" y1="494.0" x2="834.5" y2="505.0" stroke="#000" stroke-width="1"/>
<rect x="832.0" y="500.0" width="5" height="2.0" fill="#000"/>
<line x1="839.5" y1="480.0" x2="839.5" y2="515.0" stroke="#000" stroke-width="1"/>
<rect x="837.0" y="502.0" width="5" height="11.0" fill="#000"/>
<line x1="845.5" y1="490.0" x2="845.5" y2="526.0" stroke="#000" stroke-width="1"/>
<rect x="843.5" y="491.5" width="4" height="20.0" fill="#fff" stroke="#000" stroke-width="1"/>
<line x1="850.5" y1="478.0" x2="850.5" y2="509.0" stroke="#000" stroke-width="1"/>
<rect x="848.0" y="491.0" width="5" height="14.0" fill="#000"/>
<line x1="855.5" y1="477.0" x2="855.5" y2="504.0" stroke="#000" stroke-width="1"/>
<rect x="853.5" y="494.5" width="4" height="9.0" fill="#fff" stroke="#000" stroke-width="1"/>
<line x1="860.5" y1="470.0" x2="860.5" y2="499.0" stroke="#000" stroke-width="1"/>
<rect x="858.5" y="483.5" width="4" height="10.0" fill="#fff" stroke="#000" stroke-width="1"/>
<line x1="865.5" y1="474.0" x2="865.5" y2="518.0" stroke="#000" stroke-width="1"/>
<rect x="863.0" y="483.0" width="5" height="30.0" fill="#000"/>
<line x1="870.5" y1="505.0" x2="870.5" y2="522.0" stroke="#000" stroke-width="1"/>
<rect x="868.0" y="512.0" width="5" height="7.0" fill="#000"/>
<line x1="875.5" y1="517.0" x2="875.5" y2="565.0" stroke="#000" stroke-width="1"/>
<rect x="873.0" y="518.0" width="5" height="42.0" fill="#000"/>
<line x1="880.5" y1="540.0" x2="880.5" y2="573.0" stroke="#000" stroke-width="1"/>
<rect x="878.5" y="548.5" width="4" height="11.0" fill="#fff" stroke="#000" stroke-width="1"/>
<line x1="886.5" y1="540.0" x2="886.5" y2="566.0" stroke="#000" stroke-width="1"/>
<rect x="884.5" y="545.5" width="4" height="2.0" fill="#fff" stroke="#000" stroke-width="1"/>
<line x1="891.5" y1="541.0" x2="891.5" y2="566.0" stroke="#000" stroke-width="1"/>
<rect x="889.0" y="545.0" width="5" height="15.0" fill="#000"/>
<line x1="896.5" y1="530.0" x2="896.5" y2="574.0" stroke="#000" stroke-width="1"/>
<rect x="894.5" y="549.5" width="4" height="10.0" fill="#fff" stroke="#000" stroke-width="1"/>
<line x1="901.5" y1="534.0" x2="901.5" y2="571.0" stroke="#000" stroke-width="1"/>
<rect x="899.0" y="548.0" width="5" height="4.0" fill="#000"/>
<line x1="906.5" y1="545.0" x2="906.5" y2="593.0" stroke="#000" stroke-width="1"/>
<rect x="904.0" y="552.0" width="5" height="41.0" fill="#000"/>
<line x1="911.5" y1="579.0" x2="911.5" y2="615.0" stroke="#000" stroke-width="1"/>
<rect x="909.0" y="592.0" width="5" height="23.0" fill="#000"/>
<line x1="916.5" y1="588.0" x2="916.5" y2="615.0" stroke="#000" stroke-width="1"/>
<rect x="914.5" y="607.5" width="4" height="7.0" fill="#fff" stroke="#000" stroke-width="1"/>
<line x1="921.5" y1="562.0" x2="921.5" y2="623.0" stroke="#000" stroke-width="1"/>
<rect x="919.5" y="566.5" width="4" height="40.0" fill="#fff" stroke="#000" stroke-width="1"/>
<line x1="927.5" y1="559.0" x2="927.5" y2="589.0" stroke="#000" stroke-width="1"/>
<rect x="925.0" y="565.0" width="5" height="1.0" fill="#000"/>
<line x1="932.5" y1="546.0" x2="932.5" y2="567.0" stroke="#000" stroke-width="1"/>
<rect x="930.5" y="546.5" width="4" height="19.0" fill="#fff" stroke="#000" stroke-width="1"/>
<line x1="937.5" y1="513.0" x2="937.5" y2="566.0" stroke="#000" stroke-width="1"/>
<rect x="935.5" y="514.5" width="4" height="31.0" fill="#fff" stroke="#000" stroke-width="1"/>
<line x1="942.5" y1="477.0" x2="942.5" y2="521.0" stroke="#000" stroke-width="1"/>
<rect x="940.5" y="482.5" width="4" height="31.0" fill="#fff" stroke="#000" stroke-width="1"/>
<line x1="947.5" y1="479.0" x2="947.5" y2="514.0" stroke="#000" stroke-width="1"/>
<rect x="945.0" y="481.0" width="5" height="13.0" fill="#000"/>
<line x1="952.5" y1="482.0" x2="952.5" y2="506.0" stroke="#000" stroke-width="1"/>
<rect x="950.0" y="493.0" width="5" height="7.0" fill="#000"/>
<line x1="957.5" y1="497.0" x2="957.5" y2="526.0" stroke="#000" stroke-width="1"/>
<rect x="955.0" y="499.0" width="5" height="24.0" fill="#000"/>
<line x1="962.5" y1="515.0" x2="962.5" y2="558.0" stroke="#000" stroke-width="1"/>
<rect x="960.0" y="522.0" width="5" height="34.0" fill="#000"/>
<line x1="968.5" y1="535.0" x2="968.5" y2="564.0" stroke="#000" stroke-width="1"/>
<rect x="966.0" y="555.0" width="5" height="4.0" fill="#000"/>
<line x1="973.5" y1="542.0" x2="973.5" y2="564.0" stroke="#000" stroke-width="1"/>
<rect x="971.5" y="550.5" width="4" height="7.0" fill="#fff" stroke="#000" stroke-width="1"/>
<line x1="978.5" y1="537.0" x2="978.5" y2="588.0" stroke="#000" stroke-width="1"/>
<rect x="976.0" y="549.0" width="5" height="9.0" fill="#000"/>
<line x1="983.5" y1="551.0" x2="983.5" y2="591.0" stroke="#000" stroke-width="1"/>
<rect x="981.0" y="557.0" width="5" height="30.0" fill="#000"/>
<line x1="988.5" y1="555.0" x2="988.5" y2="587.0" stroke="#000" stroke-width="1"/>
<rect x="986.5" y="580.5" width="4" height="6.0" fill="#fff" stroke="#000" stroke-width="1"/>
<line x1="993.5" y1="565.0" x2="993.5" y2="584.0" stroke="#000" stroke-width="1"/>
<rect x="991.5" y="576.5" width="4" height="3.0" fill="#fff" stroke="#000" stroke-width="1"/>
<line x1="998.5" y1="573.0" x2="998.5" y2="607.0" stroke="#000" stroke-width="1"/>
<rect x="996.0" y="576.0" width="5" height="30.0" fill="#000"/>
<line x1="1003.5" y1="584.0" x2="1003.5" y2="614.0" stroke="#000" stroke-width="1"/>
<rect x="1001.0" y="605.0" width="5" height="3.0" fill="#000"/>
<line x1="1008.5" y1="568.0" x2="1008.5" y2="620.0" stroke="#000" stroke-width="1"/>
<rect x="1006.5" y="569.5" width="4" height="38.0" fill="#fff" stroke="#000" stroke-width="1"/>
<line x1="1014.5" y1="552.0" x2="1014.5" y2="586.0" stroke="#000" stroke-width="1"/>
<rect x="1012.0" y="569.0" width="5" height="11.0" fill="#000"/>
<line x1="1019.5" y1="563.0" x2="1019.5" y2="593.0" stroke="#000" stroke-width="1"/>
<rect x="1017.5" y="576.5" width="4" height="3.0" fill="#fff" stroke="#000" stroke-width="1"/>
<line x1="1024.5" y1="547.0" x2="1024.5" y2="579.0" stroke="#000" stroke-width="1"/>
<rect x="1022.5" y="560.5" width="4" height="14.0" fill="#fff" stroke="#000" stroke-width="1"/>
<line x1="1029.5" y1="552.0" x2="1029.5" y2="566.0" stroke="#000" stroke-width="1"/>
<rect x="1027.0" y="560.0" width="5" height="2.0" fill="#000"/>
<line x1="1034.5" y1="557.0" x2="1034.5" y2="594.0" stroke="#000" stroke-width="1"/>
<rect x="1032.0" y="562.0" width="5" height="24.0" fill="#000"/>
<line x1="1039.5" y1="584.0" x2="1039.5" y2="602.0" stroke="#000" stroke-width="1"/>
<rect x="1037.0" y="585.0" width="5" height="16.0" fill="#000"/>
<line x1="1044.5" y1="570.0" x2="1044.5" y2="603.0" stroke="#000" stroke-width="1"/>
<rect x="1042.5" y="581.5" width="4" height="18.0" fill="#fff" stroke="#000" stroke-width="1"/>
<line x1="1049.5" y1="554.0" x2="1049.5" y2="598.0" stroke="#000" stroke-width="1"/>
<rect x="1047.0" y="581.0" width="5" height="17.0" fill="#000"/>
<line x1="1055.5" y1="590.0" x2="1055.5" y2="621.0" stroke="#000" stroke-width="1"/>
<rect x="1053.0" y="597.0" width="5" height="9.0" fill="#000"/>
<line x1="1060.5" y1="537.0" x2="1060.5" y2="606.0" stroke="#000" stroke-width="1"/>
<rect x="1058.5" y="538.5" width="4" height="67.0" fill="#fff" stroke="#000" stroke-width="1"/>
<line x1="1065.5" y1="538.0" x2="1065.5" y2="557.0" stroke="#000" stroke-width="1"/>
<rect x="1063.0" y="538.0" width="5" height="10.0" fill="#000"/>
<line x1="1070.5" y1="493.0" x2="1070.5" y2="560.0" stroke="#000" stroke-width="1"/>
<rect x="1068.5" y="500.5" width="4" height="47.0" fill="#fff" stroke="#000" stroke-width="1"/>
<line x1="1075.5" y1="486.0" x2="1075.5" y2="512.0" stroke="#000" stroke-width="1"/>
<rect x="1073.0" y="499.0" width="5" height="8.0" fill="#000"/>
<line x1="1080.5" y1="441.0" x2="1080.5" y2="510.0" stroke="#000" stroke-width="1"/>
<rect x="1078.5" y="444.5" width="4" height="62.0" fill="#fff" stroke="#000" stroke-width="1"/>
<line x1="1085.5" y1="421.0" x2="1085.5" y2="454.0" stroke="#000" stroke-width="1"/>
<rect x="1083.5" y="424.5" width="4" height="19.0" fill="#fff" stroke="#000" stroke-width="1"/>
<line x1="1090.5" y1="419.0" x2="1090.5" y2="446.0" stroke="#000" stroke-width="1"/>
<rect x="1088.0" y="423" width="5" height="1" fill="#000"/>
<line x1="1096.5" y1="404.0" x2="1096.5" y2="428.0" stroke="#000" stroke-width="1"/>
<rect x="1094.5" y="414.5" width="4" height="8.0" fill="#fff" stroke="#000" stroke-width="1"/>
<line x1="1101.5" y1="406.0" x2="1101.5" y2="424.0" stroke="#000" stroke-width="1"/>
<rect x="1099.0" y="414.0" width="5" height="6.0" fill="#000"/>
<line x1="1106.5" y1="419.0" x2="1106.5" y2="444.0" stroke="#000" stroke-width="1"/>
<rect x="1104.0" y="420.0" width="5" height="18.0" fill="#000"/>
<line x1="1111.5" y1="428.0" x2="1111.5" y2="454.0" stroke="#000" stroke-width="1"/>
<rect x="1109.0" y="438.0" width="5" height="13.0" fill="#000"/>
<line x1="1116.5" y1="447.0" x2="1116.5" y2="472.0" stroke="#000" stroke-width="1"/>
<rect x="1114.0" y="450.0" width="5" height="17.0" fill="#000"/>
<line x1="1121.5" y1="451.0" x2="1121.5" y2="466.0" stroke="#000" stroke-width="1"/>
<rect x="1119.5" y="464.5" width="4" height="2.0" fill="#fff" stroke="#000" stroke-width="1"/>
<line x1="1126.5" y1="446.0" x2="1126.5" y2="473.0" stroke="#000" stroke-width="1"/>
<rect x="1124.5" y="451.5" width="4" height="12.0" fill="#fff" stroke="#000" stroke-width="1"/>
<line x1="1131.5" y1="440.0" x2="1131.5" y2="452.0" stroke="#000" stroke-width="1"/>
<rect x="1129.5" y="444.5" width="4" height="7.0" fill="#fff" stroke="#000" stroke-width="1"/>
<line x1="1137.5" y1="436.0" x2="1137.5" y2="457.0" stroke="#000" stroke-width="1"/>
<rect x="1135.0" y="444.0" width="5" height="13.0" fill="#000"/>
<line x1="1142.5" y1="433.0" x2="1142.5" y2="464.0" stroke="#000" stroke-width="1"/>
<rect x="1140.0" y="456.0" width="5" height="7.0" fill="#000"/>
<line x1="1147.5" y1="439.0" x2="1147.5" y2="463.0" stroke="#000" stroke-width="1"/>
<rect x="1145.5" y="451.5" width="4" height="11.0" fill="#fff" stroke="#000" stroke-width="1"/>
<line x1="1152.5" y1="425.0" x2="1152.5" y2="452.0" stroke="#000" stroke-width="1"/>
<rect x="1150.5" y="427.5" width="4" height="24.0" fill="#fff" stroke="#000" stroke-width="1"/>
<line x1="1157.5" y1="381.0" x2="1157.5" y2="427.0" stroke="#000" stroke-width="1"/>
<rect x="1155.5" y="384.5" width="4" height="42.0" fill="#fff" stroke="#000" stroke-width="1"/>
<line x1="1162.5" y1="381.0" x2="1162.5" y2="413.0" stroke="#000" stroke-width="1"/>
<rect x="1160.0" y="383.0" width="5" height="7.0" fill="#000"/>
<line x1="1167.5" y1="374.0" x2="1167.5" y2="421.0" stroke="#000" stroke-width="1"/>
<rect x="1165.0" y="390.0" width="5" height="27.0" fill="#000"/>
</g>
<text x="1222.0" y="57.8" font-size="16.2" fill="#ff0000" textLength="116.8" lengthAdjust="spacingAndGlyphs">100.00%(2070.46)</text>
<text x="1229.8" y="181.8" font-size="16.2" fill="#ff0000" textLength="109" lengthAdjust="spacingAndGlyphs">78.60%(1972.98)</text>
<text x="1229.8" y="279.8" font-size="16.2" fill="#ff0000" textLength="109" lengthAdjust="spacingAndGlyphs">61.80%(1896.46)</text>
<text x="1229.8" y="348.8" font-size="16.2" fill="#ff0000" textLength="109" lengthAdjust="spacingAndGlyphs">50.00%(1842.71)</text>
<text x="1229.8" y="417.8" font-size="16.2" fill="#ff0000" textLength="109" lengthAdjust="spacingAndGlyphs">38.20%(1788.95)</text>
<text y="107.2" font-size="24" fill="#000" stroke="#000" stroke-width="1.05" stroke-linejoin="round"><tspan x="870.3" textLength="49.7" lengthAdjust="spacingAndGlyphs">Gold</tspan> <tspan x="931" textLength="54.5" lengthAdjust="spacingAndGlyphs">Daily</tspan> <tspan x="995.5" textLength="61.7" lengthAdjust="spacingAndGlyphs">Chart</tspan></text>
<text y="309.3" font-size="17" fill="#0000ff" stroke="#0000ff" stroke-width="0.75" stroke-linejoin="round"><tspan x="700" textLength="63.5" lengthAdjust="spacingAndGlyphs">200-day</tspan> <tspan x="771.3" textLength="31.9" lengthAdjust="spacingAndGlyphs">SMA</tspan></text>
<text y="522.5" font-size="17" fill="#000" stroke="#000" stroke-width="0.75" stroke-linejoin="round"><tspan x="1176.4" textLength="52.9" lengthAdjust="spacingAndGlyphs">50-day</tspan> <tspan x="1236.9" textLength="31.7" lengthAdjust="spacingAndGlyphs">SMA</tspan></text>
<text x="926.3" y="639.7" font-size="15.6" fill="#08b82e" stroke="#08b82e" stroke-width="0.2" stroke-linejoin="round" textLength="93.7" lengthAdjust="spacingAndGlyphs">Sept 2022 low</text>
<text x="1296.6" y="561.9" font-size="16" fill="#08b82e" stroke="#08b82e" stroke-width="0.2" stroke-linejoin="round" textLength="43.5" lengthAdjust="spacingAndGlyphs">2021 L</text>
<text x="10.4" y="28.8" font-size="16" fill="#555555" textLength="9.4" lengthAdjust="spacingAndGlyphs">O</text>
<text x="24.4" y="28.8" font-size="16" fill="#1e1e1e" stroke="#1e1e1e" stroke-width="0.3" stroke-linejoin="round" textLength="54.5" lengthAdjust="spacingAndGlyphs">1797.70</text>
<text x="87.3" y="28.8" font-size="16" fill="#555555" textLength="9.6" lengthAdjust="spacingAndGlyphs">H</text>
<text x="100" y="28.8" font-size="16" fill="#1e1e1e" stroke="#1e1e1e" stroke-width="0.3" stroke-linejoin="round" textLength="54.5" lengthAdjust="spacingAndGlyphs">1810.02</text>
<text x="163.7" y="28.8" font-size="16" fill="#555555" textLength="7.0" lengthAdjust="spacingAndGlyphs">L</text>
<text x="174" y="28.8" font-size="16" fill="#1e1e1e" stroke="#1e1e1e" stroke-width="0.3" stroke-linejoin="round" textLength="54.4" lengthAdjust="spacingAndGlyphs">1773.13</text>
<text x="238" y="28.8" font-size="16" fill="#555555" textLength="8.3" lengthAdjust="spacingAndGlyphs">C</text>
<text x="250.2" y="28.8" font-size="16" fill="#1e1e1e" stroke="#1e1e1e" stroke-width="0.3" stroke-linejoin="round" textLength="54.1" lengthAdjust="spacingAndGlyphs">1777.32</text>
<text x="313.9" y="28.8" font-size="16" fill="#1e1e1e" stroke="#1e1e1e" stroke-width="0.3" stroke-linejoin="round" textLength="46.3" lengthAdjust="spacingAndGlyphs">−20.38</text>
<text x="367.3" y="28.8" font-size="16" fill="#1e1e1e" stroke="#1e1e1e" stroke-width="0.3" stroke-linejoin="round" textLength="60.3" lengthAdjust="spacingAndGlyphs">(−1.13%)</text>
<rect x="11.7" y="40.6" width="38.7" height="24.8" rx="3" fill="#fff" stroke="#d3d6de" stroke-width="1"/>
<path d="M19.2 50 L24.4 54.7 L29.8 50" fill="none" stroke="#131722" stroke-width="1.9"/>
<text x="37" y="58.1" font-size="17" fill="#131722" textLength="7" lengthAdjust="spacingAndGlyphs">3</text>
<line x1="1349.5" y1="4" x2="1349.5" y2="746" stroke="#505050" stroke-width="1"/>
<line x1="2" y1="709.5" x2="1437" y2="709.5" stroke="#505050" stroke-width="1"/>
<text x="1363.6" y="35.0" font-size="18" fill="#4d4d4d" stroke="#4d4d4d" stroke-width="0.3" stroke-linejoin="round" textLength="60.5" lengthAdjust="spacingAndGlyphs">2080.00</text>
<text x="1363.6" y="86.2" font-size="18" fill="#4d4d4d" stroke="#4d4d4d" stroke-width="0.3" stroke-linejoin="round" textLength="60.5" lengthAdjust="spacingAndGlyphs">2040.00</text>
<text x="1363.6" y="137.4" font-size="18" fill="#4d4d4d" stroke="#4d4d4d" stroke-width="0.3" stroke-linejoin="round" textLength="60.5" lengthAdjust="spacingAndGlyphs">2000.00</text>
<text x="1363.6" y="188.5" font-size="18" fill="#4d4d4d" stroke="#4d4d4d" stroke-width="0.3" stroke-linejoin="round" textLength="60.5" lengthAdjust="spacingAndGlyphs">1960.00</text>
<text x="1363.6" y="239.7" font-size="18" fill="#4d4d4d" stroke="#4d4d4d" stroke-width="0.3" stroke-linejoin="round" textLength="60.5" lengthAdjust="spacingAndGlyphs">1920.00</text>
<text x="1363.6" y="290.8" font-size="18" fill="#4d4d4d" stroke="#4d4d4d" stroke-width="0.3" stroke-linejoin="round" textLength="60.5" lengthAdjust="spacingAndGlyphs">1880.00</text>
<text x="1363.6" y="342.0" font-size="18" fill="#4d4d4d" stroke="#4d4d4d" stroke-width="0.3" stroke-linejoin="round" textLength="60.5" lengthAdjust="spacingAndGlyphs">1840.00</text>
<text x="1363.6" y="495.5" font-size="18" fill="#4d4d4d" stroke="#4d4d4d" stroke-width="0.3" stroke-linejoin="round" textLength="60.5" lengthAdjust="spacingAndGlyphs">1720.00</text>
<text x="1363.6" y="597.8" font-size="18" fill="#4d4d4d" stroke="#4d4d4d" stroke-width="0.3" stroke-linejoin="round" textLength="60.5" lengthAdjust="spacingAndGlyphs">1640.00</text>
<text x="1363.6" y="700.1" font-size="18" fill="#4d4d4d" stroke="#4d4d4d" stroke-width="0.3" stroke-linejoin="round" textLength="60.5" lengthAdjust="spacingAndGlyphs">1560.00</text>
<path d="M1349 458 H1431.5 Q1434 458 1434 460.5 V480.0 Q1434 482.5 1431.5 482.5 H1349 Z" fill="#00bcd4"/>
<text x="1363.6" y="476.6" font-size="18" fill="#000" textLength="60.5" lengthAdjust="spacingAndGlyphs">1735.21</text>
<path d="M1349 425 H1431.5 Q1434 425 1434 427.5 V446.5 Q1434 449 1431.5 449 H1349 Z" fill="#40c4ff"/>
<text x="1363.6" y="443.4" font-size="18" fill="#000" textLength="60.5" lengthAdjust="spacingAndGlyphs">1769.99</text>
<path d="M1349 400 H1431.5 Q1434 400 1434 402.5 V422.5 Q1434 425 1431.5 425 H1349 Z" fill="#000"/>
<text x="1363.6" y="418.9" font-size="18" fill="#fff" font-weight="bold" textLength="60.5" lengthAdjust="spacingAndGlyphs">1786.50</text>
<path d="M1349 375 H1431.5 Q1434 375 1434 377.5 V397.5 Q1434 400 1431.5 400 H1349 Z" fill="#ff0000"/>
<text x="1363.6" y="393.9" font-size="18" fill="#fff" font-weight="bold" textLength="60.5" lengthAdjust="spacingAndGlyphs">1800.00</text>
<path d="M1349 533 H1431.5 Q1434 533 1434 535.5 V555.5 Q1434 558 1431.5 558 H1349 Z" fill="#08b82e"/>
<text x="1363.6" y="551.9" font-size="18" fill="#fff" font-weight="bold" textLength="60.5" lengthAdjust="spacingAndGlyphs">1676.55</text>
<path d="M1349 636 H1431.5 Q1434 636 1434 638.5 V658.5 Q1434 661 1431.5 661 H1349 Z" fill="#08b82e"/>
<text x="1363.6" y="654.9" font-size="18" fill="#fff" font-weight="bold" textLength="60.5" lengthAdjust="spacingAndGlyphs">1600.00</text>
<path d="M1349 611 H1431.5 Q1434 611 1434 613.5 V633.5 Q1434 636 1431.5 636 H1349 Z" fill="#08b82e"/>
<text x="1363.6" y="629.9" font-size="18" fill="#fff" font-weight="bold" textLength="60.5" lengthAdjust="spacingAndGlyphs">1614.95</text>
<text x="133.6" y="734.9" font-size="18" fill="#4d4d4d" stroke="#4d4d4d" stroke-width="0.3" stroke-linejoin="round" textLength="28.6" lengthAdjust="spacingAndGlyphs">Mar</text>
<text x="252.5" y="734.9" font-size="18" fill="#4d4d4d" stroke="#4d4d4d" stroke-width="0.3" stroke-linejoin="round" textLength="26.7" lengthAdjust="spacingAndGlyphs">Apr</text>
<text x="472.4" y="734.9" font-size="18" fill="#4d4d4d" stroke="#4d4d4d" stroke-width="0.3" stroke-linejoin="round" textLength="26.7" lengthAdjust="spacingAndGlyphs">Jun</text>
<text x="587.5" y="734.9" font-size="18" fill="#4d4d4d" stroke="#4d4d4d" stroke-width="0.3" stroke-linejoin="round" textLength="22.5" lengthAdjust="spacingAndGlyphs">Jul</text>
<text x="707.1" y="734.9" font-size="18" fill="#4d4d4d" stroke="#4d4d4d" stroke-width="0.3" stroke-linejoin="round" textLength="8.4" lengthAdjust="spacingAndGlyphs">2</text>
<text x="810.6" y="734.9" font-size="18" fill="#4d4d4d" stroke="#4d4d4d" stroke-width="0.3" stroke-linejoin="round" textLength="27.5" lengthAdjust="spacingAndGlyphs">Sep</text>
<text x="923.1" y="734.9" font-size="18" fill="#4d4d4d" stroke="#4d4d4d" stroke-width="0.3" stroke-linejoin="round" textLength="27.3" lengthAdjust="spacingAndGlyphs">Oct</text>
<text x="1143.0" y="734.9" font-size="18" fill="#4d4d4d" stroke="#4d4d4d" stroke-width="0.3" stroke-linejoin="round" textLength="28.5" lengthAdjust="spacingAndGlyphs">Dec</text>
<text x="1250.3" y="734.9" font-size="18" fill="#4d4d4d" font-weight="bold" textLength="39" lengthAdjust="spacingAndGlyphs">2023</text>
<circle cx="1393.4" cy="728.9" r="6.0" fill="none" stroke="#131722" stroke-width="1.3"/>
<line x1="1399.90" y1="728.90" x2="1402.40" y2="728.90" stroke="#131722" stroke-width="1.2"/>
<line x1="1398.00" y1="733.50" x2="1399.76" y2="735.26" stroke="#131722" stroke-width="1.2"/>
<line x1="1393.40" y1="735.40" x2="1393.40" y2="737.90" stroke="#131722" stroke-width="1.2"/>
<line x1="1388.80" y1="733.50" x2="1387.04" y2="735.26" stroke="#131722" stroke-width="1.2"/>
<line x1="1386.90" y1="728.90" x2="1384.40" y2="728.90" stroke="#131722" stroke-width="1.2"/>
<line x1="1388.80" y1="724.30" x2="1387.04" y2="722.54" stroke="#131722" stroke-width="1.2"/>
<line x1="1393.40" y1="722.40" x2="1393.40" y2="719.90" stroke="#131722" stroke-width="1.2"/>
<line x1="1398.00" y1="724.30" x2="1399.76" y2="722.54" stroke="#131722" stroke-width="1.2"/>
</svg></body></html>
